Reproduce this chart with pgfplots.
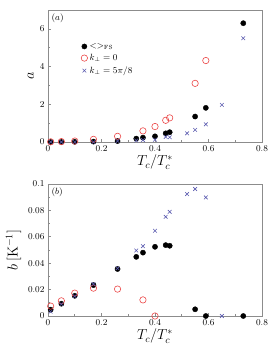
\documentclass[border=0pt]{standalone}
\usepackage{pgfplots}
\pgfplotsset{compat=1.18}
\definecolor{myred}{RGB}{235,70,70}
\definecolor{myblue}{RGB}{90,90,175}
\definecolor{axgray}{RGB}{140,140,140}
\pgfplotsset{
  myax/.style={
    scale only axis, width=214pt, height=132pt,
    xmin=0, xmax=0.8, xtick={0,0.2,0.4,0.6,0.8},
    minor x tick num=1, minor y tick num=1,
    tick align=inside, xtick pos=left, ytick pos=left,
    axis line style={axgray, line width=0.8pt},
    every tick/.style={axgray, line width=0.6pt},
    major tick length=3pt, minor tick length=2pt,
    tick label style={font=\small},
    xlabel={$T_c/T_c^{*}$},
    xlabel style={font=\Large, yshift=3pt},
    ylabel style={font=\Large},
    clip=false,
    /pgf/number format/fixed,
  },
  blk/.style={only marks, mark=*, mark size=2.6pt, mark options={fill=black, draw=black}},
  rd/.style={only marks, mark=o, mark size=3.2pt, mark options={draw=myred, line width=0.6pt}},
  bl/.style={only marks, mark=x, mark size=2.6pt, mark options={draw=myblue, line width=0.6pt}},
}
\begin{document}
\begin{tikzpicture}
\useasboundingbox (0,0) rectangle (273pt,355pt);
\begin{axis}[myax, at={(48pt,213pt)}, anchor=south west,
  ymin=0, ymax=7, ytick={0,2,4,6}, ylabel={$a$}, ylabel style={yshift=-1pt},
  legend style={draw=none, fill=none, at={(0.14,0.78)}, anchor=north west, font=\small, row sep=0.5pt},
  legend cell align=left]
\addplot[blk] coordinates {(0.01,0) (0.05,0) (0.10,0.01) (0.17,0.02) (0.26,0.05) (0.33,0.18) (0.355,0.23) (0.40,0.30) (0.44,0.46) (0.455,0.52) (0.55,1.35) (0.59,1.81) (0.73,6.30)};
\addlegendentry{$<>_{\mathrm{FS}}$}
\addplot[rd] coordinates {(0.01,0.01) (0.05,0.02) (0.10,0.05) (0.17,0.14) (0.26,0.30) (0.355,0.59) (0.40,0.82) (0.44,1.15) (0.455,1.28) (0.55,3.11) (0.59,4.32)};
\addlegendentry{$k_\perp=0$}
\addplot[bl] coordinates {(0.01,0) (0.05,0) (0.10,0) (0.17,0) (0.26,0.05) (0.33,0.08) (0.355,0.10) (0.40,0.12) (0.44,0.27) (0.455,0.25) (0.52,0.46) (0.55,0.64) (0.59,0.94) (0.65,1.97) (0.73,5.50)};
\addlegendentry{$k_\perp=5\pi/8$}
\node[anchor=north west, font=\small] at (rel axis cs:0,1) {$(a)$};
\end{axis}
\begin{axis}[myax, at={(48pt,39pt)}, anchor=south west,
  ymin=0, ymax=0.1, ytick={0,0.02,0.04,0.06,0.08,0.1},
  yticklabel style={/pgf/number format/precision=2},
  ylabel={$b\,[\mathrm{K}^{-1}]$}]
\addplot[blk] coordinates {(0.01,0.0048) (0.05,0.0093) (0.10,0.0153) (0.17,0.0234) (0.26,0.0356) (0.33,0.0448) (0.355,0.048) (0.40,0.0524) (0.44,0.0537) (0.455,0.0532) (0.55,0.0051) (0.59,0) (0.73,0)};
\addplot[rd] coordinates {(0.01,0.0075) (0.05,0.0115) (0.10,0.0173) (0.17,0.0211) (0.26,0.0204) (0.355,0.0122) (0.40,0)};
\addplot[bl] coordinates {(0.01,0.0033) (0.05,0.009) (0.10,0.015) (0.17,0.0242) (0.26,0.0361) (0.33,0.0496) (0.355,0.0529) (0.40,0.0646) (0.44,0.0751) (0.455,0.0789) (0.52,0.0924) (0.55,0.0962) (0.59,0.0898) (0.65,0)};
\node[anchor=north west, font=\small] at (rel axis cs:0,1) {$(b)$};
\end{axis}
\end{tikzpicture}
\end{document}
